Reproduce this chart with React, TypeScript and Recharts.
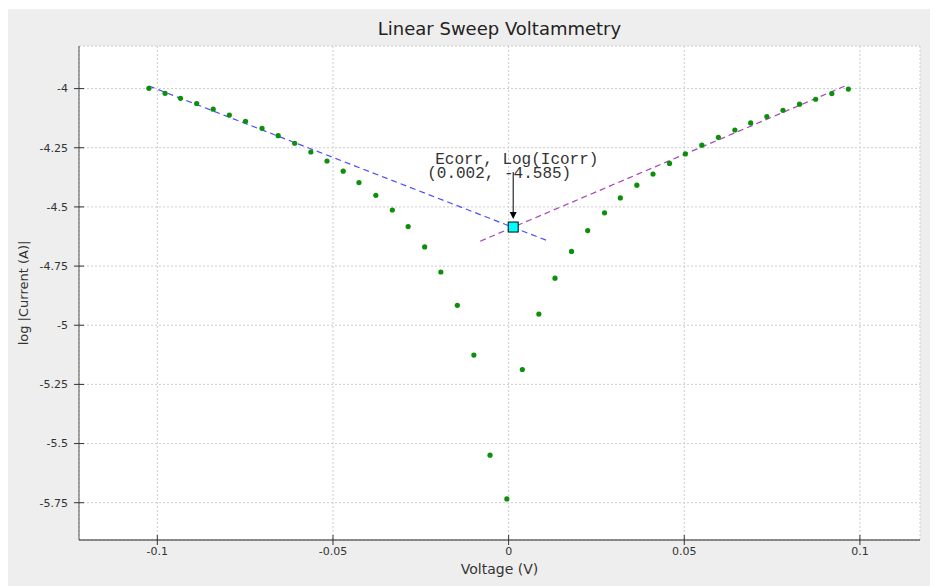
import React from 'react';
import {
  ComposedChart,
  Scatter,
  Line,
  XAxis,
  YAxis,
  CartesianGrid,
  ReferenceDot,
  Label,
} from 'recharts';

// measured sweep (V vs log|I|)
const voltage = [
  -0.1024, -0.0978, -0.0934, -0.0888, -0.0841, -0.0795, -0.0749, -0.0702, -0.0656, -0.0609,
  -0.0563, -0.0517, -0.0471, -0.0426, -0.0378, -0.0331, -0.0286, -0.0239, -0.0193, -0.0146,
  -0.0099, -0.0053, -0.0005, 0.0039, 0.0086, 0.0132, 0.0179, 0.0225, 0.0273, 0.0318,
  0.0365, 0.0411, 0.0458, 0.0503, 0.055, 0.0597, 0.0644, 0.0689, 0.0735, 0.0781,
  0.0828, 0.0874, 0.092, 0.0967,
];
const logCurrent = [
  -3.999, -4.02, -4.041, -4.063, -4.087, -4.112, -4.138, -4.168, -4.199, -4.231,
  -4.268, -4.306, -4.349, -4.397, -4.451, -4.513, -4.583, -4.669, -4.775, -4.916,
  -5.126, -5.549, -5.734, -5.187, -4.953, -4.801, -4.688, -4.6, -4.525, -4.462,
  -4.408, -4.361, -4.316, -4.276, -4.239, -4.206, -4.175, -4.145, -4.118, -4.092,
  -4.066, -4.045, -4.021, -4.002,
];

// Tafel fit lines (end points)
const cathodicV = [-0.1024, 0.0109];
const cathodicLog = [-3.989, -4.642];
const anodicV = [-0.0081, 0.0967];
const anodicLog = [-4.645, -3.983];

// corrosion point
const ecorrV = [0.0013];
const ecorrLog = [-4.585];
const ecorrText = ['Ecorr, Log(Icorr)', '(0.002, -4.585)'];

const xTicks = [-0.1, -0.05, 0, 0.05, 0.1];
const yTicks = [-5.75, -5.5, -5.25, -5, -4.75, -4.5, -4.25, -4];

const points = voltage.map((v, i) => ({ v, l: logCurrent[i] }));
const cathodic = cathodicV.map((v, i) => ({ v, l: cathodicLog[i] }));
const anodic = anodicV.map((v, i) => ({ v, l: anodicLog[i] }));

const FONT = '"DejaVu Sans", sans-serif';

const YTick = (props: any) => {
  const { x, y, payload } = props;
  return (
    <g>
      <line x1={x + 11} x2={x + 16} y1={y} y2={y} stroke="#333" />
      <text x={x} y={y} dy="0.35em" textAnchor="end" fontSize={11} fill="#333" fontFamily={FONT}>
        {String(payload.value)}
      </text>
    </g>
  );
};

const XTick = (props: any) => {
  const { x, y, payload } = props;
  return (
    <g>
      <line x1={x} x2={x} y1={y - 7} y2={y - 12} stroke="#333" />
      <text x={x} y={y} dy="0.71em" textAnchor="middle" fontSize={11} fill="#333" fontFamily={FONT}>
        {String(payload.value)}
      </text>
    </g>
  );
};

const EcorrMarker = (props: any) => {
  const { cx, cy } = props;
  return (
    <g>
      <line x1={cx} x2={cx} y1={cy - 55} y2={cy - 14} stroke="#000" strokeWidth={1} />
      <path d={`M${cx - 3.5},${cy - 15} L${cx + 3.5},${cy - 15} L${cx},${cy - 8} Z`} fill="#000" />
      <rect x={cx - 5} y={cy - 5} width={10} height={10} fill="#00ffff" stroke="#000" strokeWidth={1} />
      <text x={cx - 78} y={cy - 63} fontSize={16} fill="#333" fontFamily='"Liberation Mono", monospace'>
        {ecorrText[0]}
      </text>
      <text x={cx - 86} y={cy - 49} fontSize={16} fill="#333" fontFamily='"Liberation Mono", monospace'>
        {ecorrText[1]}
      </text>
    </g>
  );
};

export default function App() {
  return (
    <div
      style={{
        position: 'relative',
        width: 925,
        height: 577,
        marginLeft: -1,
        marginTop: 1,
        background: '#eeeeee',
      }}
    >
      <div
        style={{
          position: 'absolute',
          left: 72,
          width: 841,
          top: 9,
          textAlign: 'center',
          fontFamily: FONT,
          fontSize: 18,
          lineHeight: '22px',
          color: '#222',
        }}
      >
        Linear Sweep Voltammetry
      </div>
      <ComposedChart width={925} height={577} margin={{ top: 37, right: 12, bottom: 0, left: 0 }}>
        <CartesianGrid stroke="#cccccc" strokeDasharray="2 2" fill="#ffffff" />
        <XAxis
          dataKey="v"
          type="number"
          domain={[-0.1223, 0.1171]}
          ticks={xTicks}
          allowDataOverflow
          height={46}
          tickSize={5}
          tickMargin={2}
          tickLine={{ stroke: '#333' }}
          axisLine={{ stroke: '#222' }}
          tick={<XTick />}
        >
          <Label
            content={(p: any) => {
              const vb = p.viewBox;
              return (
                <text x={vb.x + vb.width / 2} y={vb.y + 34} textAnchor="middle" fontSize={14} fill="#333" fontFamily={FONT}>
                  Voltage (V)
                </text>
              );
            }}
          />
        </XAxis>
        <XAxis
          xAxisId="top"
          orientation="top"
          type="number"
          domain={[-0.1223, 0.1171]}
          height={0}
          tick={false}
          tickLine={false}
          axisLine={{ stroke: '#7a7a7a', strokeWidth: 2 }}
        />
        <YAxis
          type="number"
          domain={[-5.9075, -3.82]}
          ticks={yTicks}
          allowDataOverflow
          width={72}
          tickSize={5}
          tickMargin={6}
          tickLine={{ stroke: '#333' }}
          axisLine={{ stroke: '#555' }}
          tick={<YTick />}
        >
          <Label
            content={(p: any) => {
              const vb = p.viewBox;
              const cx = 16.5;
              const cy = vb.y + vb.height / 2;
              return (
                <text
                  x={cx}
                  y={cy}
                  transform={`rotate(-90, ${cx}, ${cy})`}
                  textAnchor="middle"
                  dominantBaseline="central"
                  fontSize={13}
                  fill="#333"
                  fontFamily={FONT}
                >
                  log |Current (A)|
                </text>
              );
            }}
          />
        </YAxis>
        <YAxis
          yAxisId="right"
          orientation="right"
          type="number"
          domain={[-5.9075, -3.82]}
          width={0}
          tick={false}
          tickLine={false}
          axisLine={{ stroke: '#111' }}
        />
        <Line
          data={cathodic}
          dataKey="l"
          stroke="#4d4dff"
          strokeWidth={1.2}
          strokeDasharray="6 4"
          dot={false}
          isAnimationActive={false}
        />
        <Line
          data={anodic}
          dataKey="l"
          stroke="#a844b8"
          strokeWidth={1.2}
          strokeDasharray="6 4"
          dot={false}
          isAnimationActive={false}
        />
        <Scatter
          data={points}
          dataKey="l"
          fill="#109010"
          isAnimationActive={false}
          shape={(p: any) => <circle cx={p.cx} cy={p.cy} r={2.6} fill="#0c900c" />}
        />
        <ReferenceDot x={ecorrV[0]} y={ecorrLog[0]} shape={<EcorrMarker />} />
      </ComposedChart>
    </div>
  );
}
